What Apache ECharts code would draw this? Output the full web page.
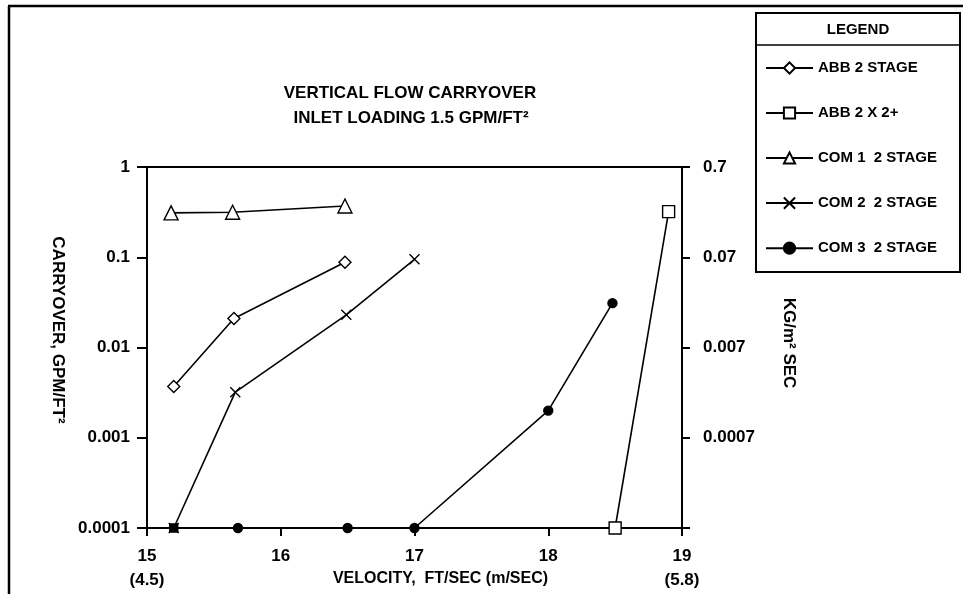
<!DOCTYPE html>
<html>
<head>
<meta charset="utf-8">
<script src="https://cdn.jsdelivr.net/npm/echarts@6/dist/echarts.min.js"></script>
<style>
html,body{margin:0;padding:0;background:#fff;}
#chart{width:963px;height:594px;}
</style>
</head>
<body>
<div id="chart"></div>
<script>
// ---- data ----
const seriesNames = ['ABB 2 STAGE', 'ABB 2 X 2+', 'COM 1  2 STAGE', 'COM 2  2 STAGE', 'COM 3  2 STAGE'];
const abb2Stage = [[15.2, 0.0037], [15.65, 0.021], [16.48, 0.088]];
const abb2x2 = [[18.5, 0.0001], [18.9, 0.32]];
const com1 = [[15.18, 0.31], [15.64, 0.315], [16.48, 0.37]];
const com2 = [[15.2, 0.0001], [15.66, 0.0032], [16.49, 0.023], [17.0, 0.095]];
const com3 = [[15.2, 0.0001], [15.68, 0.0001], [16.5, 0.0001], [17.0, 0.0001], [18.0, 0.002], [18.48, 0.031]];
const xTickLabels = {15: '15\n(4.5)', 16: '16', 17: '17', 18: '18', 19: '19\n(5.8)'};
const leftTickLabels = {'-4': '0.0001', '-3': '0.001', '-2': '0.01', '-1': '0.1', '0': '1'};
const rightTickLabels = {'-4': '', '-3': '0.0007', '-2': '0.007', '-1': '0.07', '0': '0.7'};
const titleLines = ['VERTICAL FLOW CARRYOVER', 'INLET LOADING 1.5 GPM/FT²'];

const FONT = "'Liberation Sans', Arial, sans-serif";
const chart = echarts.init(document.getElementById('chart'), null, {renderer: 'canvas'});

function lineSeries(name, data, symbol, size, fill) {
  return {
    name: name, type: 'line', data: data, symbol: symbol, symbolSize: size,
    clip: false, yAxisIndex: 0,
    lineStyle: {color: '#000', width: 1.6},
    itemStyle: {color: fill, borderColor: '#000', borderWidth: 1.4},
    emphasis: {disabled: true}, animation: false
  };
}

// the first COM 3 point overlaps the COM 2 start and reads as a filled square
const com3Data = com3.map(function (p, i) {
  return i === 0 ? {value: p, symbol: 'rect', symbolSize: 8} : p;
});

const option = {
  backgroundColor: '#fff',
  animation: false,
  textStyle: {fontFamily: FONT},
  grid: {left: 147, right: 281, top: 167, bottom: 66, show: true, borderColor: '#000', borderWidth: 2,
    backgroundColor: 'transparent', containLabel: false, outerBoundsMode: 'none'},
  xAxis: {
    type: 'value', min: 15, max: 19, interval: 1,
    axisLine: {show: true, onZero: false, lineStyle: {color: '#000', width: 2}},
    axisTick: {show: true, length: 8, lineStyle: {color: '#000', width: 2}},
    splitLine: {show: false},
    axisLabel: {color: '#000', fontSize: 17, fontWeight: 'bold', fontFamily: FONT, margin: 16, lineHeight: 24,
      formatter: function (v) { return xTickLabels[v] || ''; }},
    name: 'VELOCITY,  FT/SEC (m/SEC)', nameLocation: 'middle', nameGap: 43, nameMoveOverlap: false,
    nameTextStyle: {color: '#000', fontSize: 16, fontWeight: 'bold', fontFamily: FONT, padding: [0, 0, 0, 52]}
  },
  yAxis: [{
    type: 'log', logBase: 10, min: 0.0001, max: 1, position: 'left',
    axisLine: {show: true, onZero: false, lineStyle: {color: '#000', width: 2}},
    axisTick: {show: true, length: 10, lineStyle: {color: '#000', width: 2}},
    minorTick: {show: false},
    splitLine: {show: false},
    axisLabel: {color: '#000', fontSize: 17, fontWeight: 'bold', fontFamily: FONT, margin: 17,
      formatter: function (v) { return leftTickLabels[String(Math.round(Math.log10(v)))] || ''; }}
  }, {
    type: 'value', min: -4, max: 0, interval: 1, position: 'right',
    axisLine: {show: true, onZero: false, lineStyle: {color: '#000', width: 2}},
    axisTick: {show: true, length: 8, lineStyle: {color: '#000', width: 2}},
    splitLine: {show: false},
    axisLabel: {color: '#000', fontSize: 17, fontWeight: 'bold', fontFamily: FONT, margin: 21,
      formatter: function (v) { return rightTickLabels[String(Math.round(v))] || ''; }}
  }],
  legend: {
    orient: 'vertical', left: 765, top: 60, padding: 0,
    itemWidth: 47, itemHeight: 14, itemGap: 29,
    data: seriesNames,
    textStyle: {color: '#000', fontSize: 15, fontWeight: 'bold', fontFamily: FONT, lineHeight: 16},
    selectedMode: false
  },
  series: [
    lineSeries(seriesNames[0], abb2Stage, 'diamond', 12, '#fff'),
    lineSeries(seriesNames[1], abb2x2, 'rect', 12, '#fff'),
    lineSeries(seriesNames[2], com1, 'triangle', 14, '#fff'),
    lineSeries(seriesNames[3], com2, 'path://M0,0L10,10M0,10L10,0', 10, 'none'),
    lineSeries(seriesNames[4], com3Data, 'circle', 9, '#000')
  ],
  graphic: [
    // outer frame
    {type: 'line', shape: {x1: 8, y1: 6, x2: 963, y2: 6}, style: {stroke: '#000', lineWidth: 2.5}, silent: true},
    {type: 'line', shape: {x1: 9, y1: 6, x2: 9, y2: 594}, style: {stroke: '#000', lineWidth: 2.5}, silent: true},
    // legend box
    {type: 'rect', shape: {x: 756, y: 13, width: 204, height: 259}, style: {fill: 'none', stroke: '#000', lineWidth: 2}, silent: true, z: 10},
    {type: 'line', shape: {x1: 756, y1: 45, x2: 960, y2: 45}, style: {stroke: '#000', lineWidth: 1.5}, silent: true, z: 10},
    {type: 'text', x: 858, y: 30, style: {text: 'LEGEND', font: 'bold 15px ' + FONT, fill: '#000', textAlign: 'center', textVerticalAlign: 'middle'}, silent: true, z: 10},
    // title
    {type: 'text', x: 410, y: 93, style: {text: titleLines[0], font: 'bold 17px ' + FONT, fill: '#000', textAlign: 'center', textVerticalAlign: 'middle'}, silent: true},
    {type: 'text', x: 411, y: 118, style: {text: titleLines[1], font: 'bold 17px ' + FONT, fill: '#000', textAlign: 'center', textVerticalAlign: 'middle'}, silent: true},
    // axis titles
    {type: 'text', x: 58, y: 330, rotation: -Math.PI / 2, style: {text: 'CARRYOVER, GPM/FT²', font: 'bold 17px ' + FONT, fill: '#000', textAlign: 'center', textVerticalAlign: 'middle'}, silent: true},
    {type: 'text', x: 789, y: 343, rotation: -Math.PI / 2, style: {text: 'KG/m² SEC', font: 'bold 17px ' + FONT, fill: '#000', textAlign: 'center', textVerticalAlign: 'middle'}, silent: true}
  ]
};
chart.setOption(option);
</script>
</body>
</html>
